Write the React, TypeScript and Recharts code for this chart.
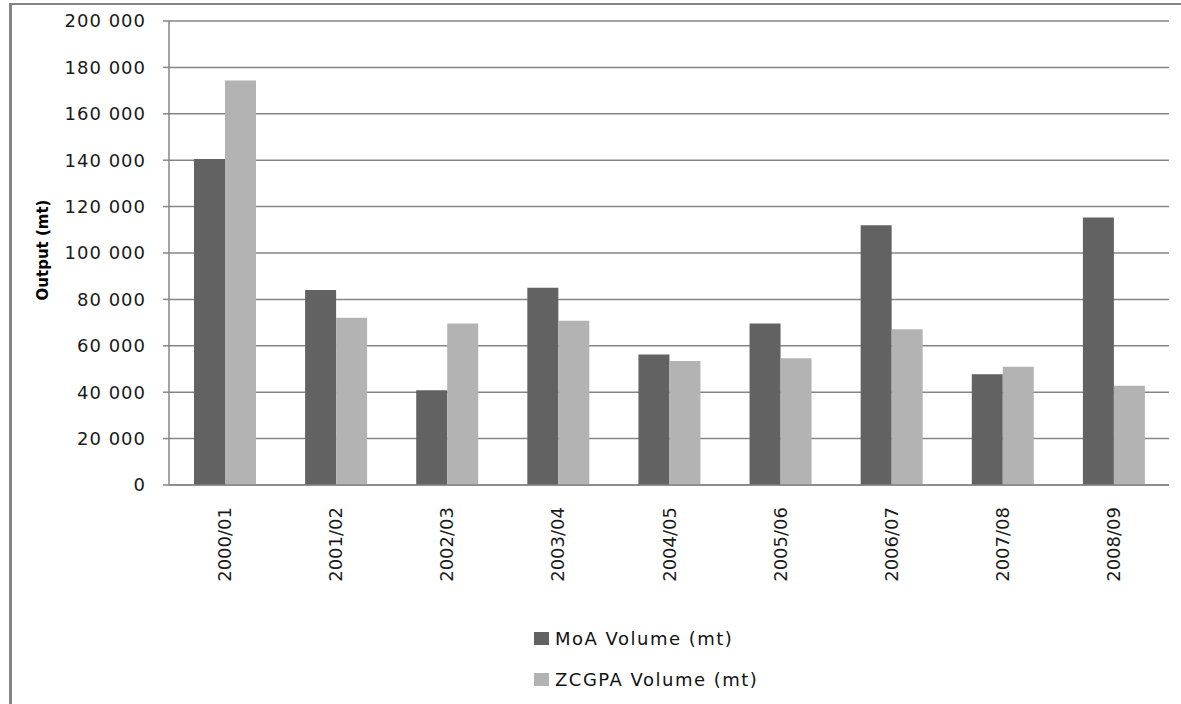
import { BarChart, Bar, XAxis, YAxis, CartesianGrid, Legend } from 'recharts';

const seasons = ['2000/01', '2001/02', '2002/03', '2003/04', '2004/05', '2005/06', '2006/07', '2007/08', '2008/09'];
const moaVolume = [140500, 84100, 40800, 85000, 56200, 69600, 112000, 47700, 115300];
const zcgpaVolume = [174400, 72100, 69600, 70800, 53400, 54600, 67100, 51000, 42800];
const yTicks = [0, 20000, 40000, 60000, 80000, 100000, 120000, 140000, 160000, 180000, 200000];

const data = seasons.map((season, i) => ({
  season,
  moa: moaVolume[i],
  zcgpa: zcgpaVolume[i],
}));

const FONT = '"DejaVu Sans", sans-serif';
const GRID = '#868686';

const fmt = (v: number) =>
  v >= 1000 ? `${Math.floor(v / 1000)} ${String(v % 1000).padStart(3, '0')}` : String(v);

const SeasonTick = (props: any) => {
  const { x, y, payload } = props;
  return (
    <g transform={`translate(${x},${y})`}>
      <text
        x={-22}
        y={6.5}
        transform="rotate(-90)"
        textAnchor="end"
        fontFamily={FONT}
        fontSize={18}
        fill="#1a1a1a"
      >
        {payload.value}
      </text>
    </g>
  );
};

const AxisTitle = (props: any) => {
  const { viewBox } = props;
  const cx = viewBox.x + 43;
  const cy = viewBox.y + viewBox.height / 2 - 3;
  return (
    <text
      x={cx}
      y={cy}
      transform={`rotate(-90, ${cx}, ${cy})`}
      textAnchor="middle"
      dominantBaseline="central"
      fontFamily={FONT}
      fontWeight="bold"
      fontSize={15}
      fill="#000"
    >
      Output (mt)
    </text>
  );
};

const LegendBox = (props: any) => {
  const { payload } = props;
  return (
    <div style={{ fontFamily: FONT, fontSize: 18, letterSpacing: 1.5, color: '#111' }}>
      {payload.map((item: any) => (
        <div key={item.value} style={{ display: 'flex', alignItems: 'center', height: 41 }}>
          <span style={{ display: 'inline-block', width: 15, height: 13, background: item.color, marginRight: 6 }} />
          <span>{item.value}</span>
        </div>
      ))}
    </div>
  );
};

export default function App() {
  return (
    <div style={{ position: 'absolute', left: 0, top: 0, width: 1181, height: 704, background: '#fff', overflow: 'hidden' }}>
      <div
        style={{
          position: 'absolute',
          left: 9,
          top: 3,
          width: 1180,
          height: 710,
          borderLeft: '3px solid #858585',
          borderTop: '2px solid #858585',
        }}
      />
      <BarChart
        width={1181}
        height={704}
        data={data}
        margin={{ top: 21, right: 12, left: 0, bottom: 189 }}
        barGap={0}
        barSize={31}
        style={{ position: 'absolute', left: 0, top: 0 }}
      >
        <CartesianGrid vertical={false} stroke={GRID} strokeWidth={1.5} />
        <XAxis
          dataKey="season"
          tickLine={false}
          tickSize={0}
          tickMargin={0}
          tick={<SeasonTick />}
          axisLine={{ stroke: GRID, strokeWidth: 1.5 }}
          interval={0}
        />
        <YAxis
          width={169}
          domain={[0, 200000]}
          ticks={yTicks}
          tickFormatter={fmt}
          tickSize={6}
          tickMargin={17}
          tickLine={{ stroke: GRID, strokeWidth: 1.5 }}
          axisLine={{ stroke: GRID, strokeWidth: 1.5 }}
          tick={{ fontFamily: FONT, fontSize: 18, fill: '#1a1a1a', letterSpacing: 1 }}
          label={<AxisTitle />}
        />
        <Legend
          layout="vertical"
          align="center"
          verticalAlign="middle"
          content={<LegendBox />}
          wrapperStyle={{ left: 534, top: 618, width: 300 }}
        />
        <Bar dataKey="moa" name="MoA Volume (mt)" fill="#626262" isAnimationActive={false} />
        <Bar dataKey="zcgpa" name="ZCGPA Volume (mt)" fill="#b3b3b3" isAnimationActive={false} />
      </BarChart>
    </div>
  );
}
